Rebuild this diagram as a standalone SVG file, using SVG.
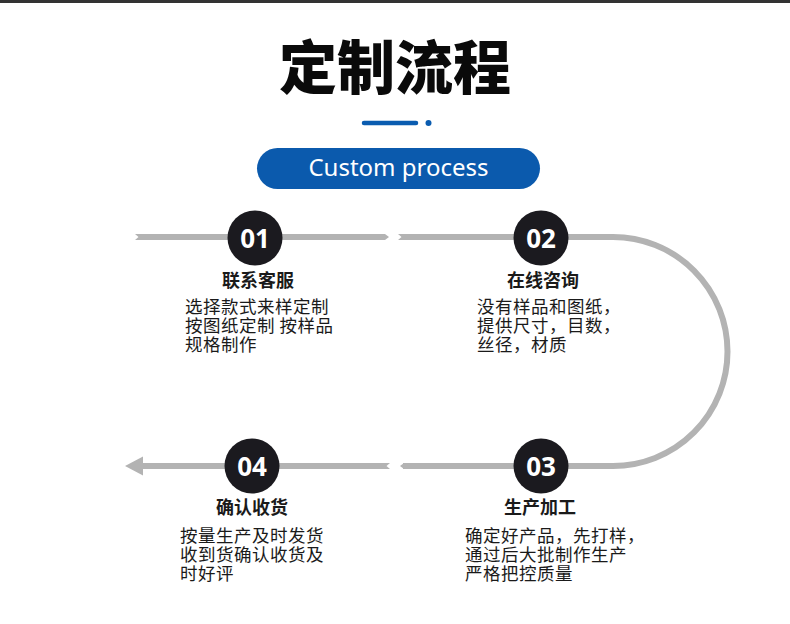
<svg xmlns="http://www.w3.org/2000/svg" width="790" height="624" viewBox="0 0 790 624">
<style>
.cjk{font-family:"Noto Sans CJK SC","Noto Sans",sans-serif;}
.title{font-size:58px;font-weight:900;fill:#0a0a0a;}
.label{font-size:18px;font-weight:700;fill:#1a1a1a;}
.desc{font-size:17.5px;font-weight:400;fill:#1a1a1a;letter-spacing:0.5px;}
.num{font-family:"Noto Sans","Open Sans",sans-serif;font-size:26px;font-weight:700;fill:#ffffff;}
.circ{fill:#1b1a1f;}
.line{fill:#b3b3b3;}
.track{fill:none;stroke:#b3b3b3;stroke-width:6;}
</style>
<rect x="0" y="0" width="790" height="624" fill="#ffffff"/>
<rect x="0" y="0" width="790" height="3" fill="#333333"/>
<g id="header">
<text class="cjk title" x="395" y="89" text-anchor="middle">定制流程</text>
<line x1="364" y1="123" x2="416" y2="123" stroke="#0a5cb0" stroke-width="4.5" stroke-linecap="round"/>
<circle cx="428.5" cy="123" r="3" fill="#0a5cb0"/>
<rect x="257" y="148" width="283" height="41" rx="20.5" fill="#0b5aad"/>
<text x="398.5" y="176" text-anchor="middle" font-family="Noto Sans,Open Sans,sans-serif" font-size="24" fill="#ffffff">Custom process</text>
</g>
<g id="connectors">
<polygon class="line" points="135,234 385,234 389,237 385,240 135,240 138.5,237"/>
<polygon class="line" points="398,234 403,234 403,240 398,240 401.5,237"/>
<path class="track" d="M402,237 H613 A114.5,114.5 0 0 1 613,466 H403"/>
<polygon class="line" points="404,463 404,469 400,466"/>
<polygon class="line" points="143,463 390,463 386.5,466 390,469 143,469"/>
<polygon class="line" points="125,466 143,456.5 143,475.5"/>
</g>
<g id="step01">
<circle class="circ" cx="255" cy="238" r="27.5"/>
<text class="num" x="255" y="247.5" text-anchor="middle">01</text>
<text class="cjk label" x="258" y="287" text-anchor="middle">联系客服</text>
<text class="cjk desc" x="185"><tspan x="185" y="313">选择款式来样定制</tspan><tspan x="185" y="332">按图纸定制 按样品</tspan><tspan x="185" y="351">规格制作</tspan></text>
</g>
<g id="step02">
<circle class="circ" cx="541" cy="238" r="27.5"/>
<text class="num" x="541" y="247.5" text-anchor="middle">02</text>
<text class="cjk label" x="543" y="287" text-anchor="middle">在线咨询</text>
<text class="cjk desc" x="477"><tspan x="477" y="313">没有样品和图纸，</tspan><tspan x="477" y="332">提供尺寸，目数，</tspan><tspan x="477" y="351">丝径，材质</tspan></text>
</g>
<g id="step03">
<circle class="circ" cx="541" cy="466" r="27.5"/>
<text class="num" x="541" y="475.5" text-anchor="middle">03</text>
<text class="cjk label" x="540" y="514" text-anchor="middle">生产加工</text>
<text class="cjk desc" x="465"><tspan x="465" y="542">确定好产品，先打样，</tspan><tspan x="465" y="561">通过后大批制作生产</tspan><tspan x="465" y="580">严格把控质量</tspan></text>
</g>
<g id="step04">
<circle class="circ" cx="252" cy="466" r="27.5"/>
<text class="num" x="252" y="475.5" text-anchor="middle">04</text>
<text class="cjk label" x="252" y="514" text-anchor="middle">确认收货</text>
<text class="cjk desc" x="180"><tspan x="180" y="542">按量生产及时发货</tspan><tspan x="180" y="561">收到货确认收货及</tspan><tspan x="180" y="580">时好评</tspan></text>
</g>
</svg>
